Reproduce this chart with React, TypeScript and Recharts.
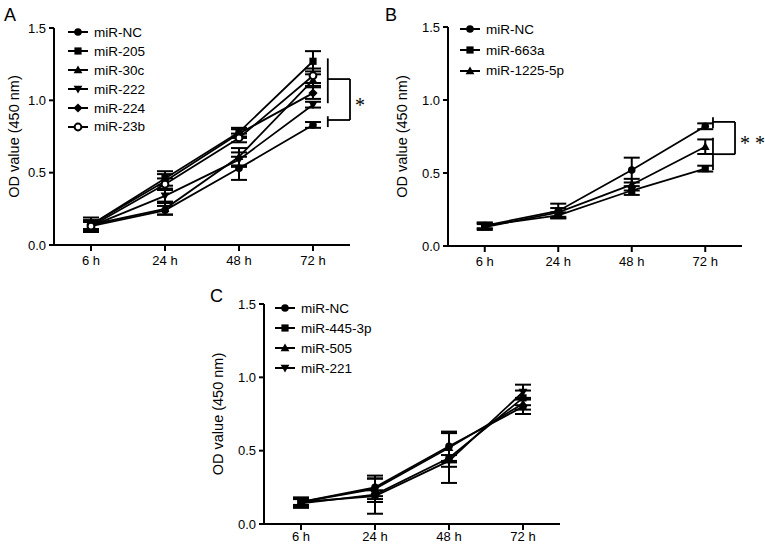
import React from "react";
import {
  LineChart,
  Line,
  XAxis,
  YAxis,
  ErrorBar,
  ReferenceLine,
} from "recharts";

const TIMES = ["6 h", "24 h", "48 h", "72 h"];
const Y_TICKS = [0, 0.5, 1, 1.5];

// panel A
const A_NAMES = ["miR-NC", "miR-205", "miR-30c", "miR-222", "miR-224", "miR-23b"];
const A_SHAPES = ["circle", "square", "triangle", "triangleDown", "diamond", "ring"];
const A_NC = [0.13, 0.24, 0.53, 0.83];
const A_NC_SD = [0.03, 0.03, 0.08, 0.02];
const A_205 = [0.14, 0.46, 0.78, 1.27];
const A_205_SD = [0.05, 0.05, 0.03, 0.07];
const A_30C = [0.14, 0.25, 0.61, 1.14];
const A_30C_SD = [0.03, 0.04, 0.06, 0.04];
const A_222 = [0.13, 0.34, 0.59, 0.97];
const A_222_SD = [0.03, 0.04, 0.05, 0.02];
const A_224 = [0.14, 0.44, 0.77, 1.05];
const A_224_SD = [0.03, 0.05, 0.03, 0.04];
const A_23B = [0.13, 0.42, 0.74, 1.17];
const A_23B_SD = [0.04, 0.04, 0.03, 0.05];

// panel B
const B_NAMES = ["miR-NC", "miR-663a", "miR-1225-5p"];
const B_SHAPES = ["circle", "square", "triangle"];
const B_NC = [0.14, 0.24, 0.52, 0.82];
const B_NC_SD = [0.02, 0.05, 0.085, 0.02];
const B_663A = [0.14, 0.21, 0.38, 0.53];
const B_663A_SD = [0.02, 0.02, 0.03, 0.02];
const B_1225 = [0.13, 0.23, 0.42, 0.68];
const B_1225_SD = [0.02, 0.03, 0.04, 0.05];

// panel C
const C_NAMES = ["miR-NC", "miR-445-3p", "miR-505", "miR-221"];
const C_SHAPES = ["circle", "square", "triangle", "triangleDown"];
const C_NC = [0.15, 0.25, 0.53, 0.8];
const C_NC_SD = [0.03, 0.06, 0.1, 0.05];
const C_445 = [0.14, 0.2, 0.45, 0.86];
const C_445_SD = [0.03, 0.13, 0.17, 0.05];
const C_505 = [0.15, 0.24, 0.52, 0.82];
const C_505_SD = [0.02, 0.07, 0.1, 0.04];
const C_221 = [0.15, 0.19, 0.43, 0.9];
const C_221_SD = [0.03, 0.04, 0.04, 0.05];

const FONT = "'Liberation Sans', Arial, Helvetica, sans-serif";

function buildRows(means: number[][], sds: number[][]) {
  return TIMES.map((_, i) => {
    const row: Record<string, number> = { x: i };
    means.forEach((m, s) => {
      row[`s${s}`] = m[i];
      row[`e${s}`] = sds[s][i];
    });
    return row;
  });
}

function Marker({ shape, cx, cy }: { shape: string; cx: number; cy: number }) {
  switch (shape) {
    case "square":
      return <rect x={cx - 3.6} y={cy - 3.6} width={7.2} height={7.2} fill="#000" />;
    case "triangle":
      return <polygon points={`${cx},${cy - 4.6} ${cx + 4.4},${cy + 3.2} ${cx - 4.4},${cy + 3.2}`} fill="#000" />;
    case "triangleDown":
      return <polygon points={`${cx - 4.4},${cy - 3.2} ${cx + 4.4},${cy - 3.2} ${cx},${cy + 4.6}`} fill="#000" />;
    case "diamond":
      return <polygon points={`${cx},${cy - 4.6} ${cx + 4.6},${cy} ${cx},${cy + 4.6} ${cx - 4.6},${cy}`} fill="#000" />;
    case "ring":
      return <circle cx={cx} cy={cy} r={3.4} fill="#fff" stroke="#000" strokeWidth={2} />;
    default:
      return <circle cx={cx} cy={cy} r={3.8} fill="#000" />;
  }
}

type Bracket = { x1: number; y1: number; x2: number; y2: number; star?: string };

interface PanelProps {
  left: number;
  top: number;
  width: number;
  height: number;
  axisW: number;
  right: number;
  mTop: number;
  xAxisH: number;
  xTickMargin: number;
  labelOffset: number;
  letter: string;
  letterX: number;
  letterY: number;
  names: string[];
  shapes: string[];
  means: number[][];
  sds: number[][];
  legendX: number;
  legendY: number;
  legendRow: number;
  brackets: Bracket[];
}

function Panel(p: PanelProps) {
  const rows = buildRows(p.means, p.sds);
  return (
    <div style={{ position: "absolute", left: p.left, top: p.top, width: p.width, height: p.height }}>
      <div
        style={{
          position: "absolute",
          left: p.letterX,
          top: p.letterY,
          fontFamily: FONT,
          fontSize: 18,
          lineHeight: "18px",
          color: "#000",
        }}
      >
        {p.letter}
      </div>
      <LineChart
        width={p.width}
        height={p.height}
        data={rows}
        margin={{ top: p.mTop, right: p.right, left: 0, bottom: 0 }}
      >
        <XAxis
          dataKey="x"
          type="number"
          domain={[-0.5, 3.5]}
          ticks={[0, 1, 2, 3]}
          tickFormatter={(v: number) => TIMES[v]}
          height={p.xAxisH}
          tick={{ fontSize: 13, fill: "#000", fontFamily: FONT }}
          tickSize={6}
          tickMargin={p.xTickMargin}
          axisLine={{ stroke: "#000", strokeWidth: 2 }}
          tickLine={{ stroke: "#000", strokeWidth: 2 }}
          allowDataOverflow
        />
        <YAxis
          domain={[0, 1.5]}
          ticks={Y_TICKS}
          width={p.axisW}
          tickFormatter={(v: number) => v.toFixed(1)}
          tick={{ fontSize: 13, fill: "#000", fontFamily: FONT }}
          tickSize={5}
          tickMargin={3}
          axisLine={{ stroke: "#000", strokeWidth: 2 }}
          tickLine={{ stroke: "#000", strokeWidth: 2 }}
          allowDataOverflow
          label={{
            value: "OD value (450 nm)",
            angle: -90,
            position: "insideLeft",
            offset: p.labelOffset,
            style: { textAnchor: "middle", fontSize: 14.5, fill: "#000", fontFamily: FONT },
          }}
        />
        {p.brackets.map((b, i) => (
          <ReferenceLine
            key={`br${i}`}
            segment={[
              { x: b.x1, y: b.y1 },
              { x: b.x2, y: b.y2 },
            ]}
            stroke="#000"
            strokeWidth={1.8}
            ifOverflow="visible"
            label={
              b.star
                ? {
                    value: b.star,
                    position: "right",
                    offset: 5,
                    dy: 5,
                    style: { fontSize: 20, fill: "#000", fontFamily: "'Liberation Serif', 'Times New Roman', serif" },
                  }
                : undefined
            }
          />
        ))}
        {p.names.map((n, s) => (
          <Line
            key={n}
            dataKey={`s${s}`}
            name={n}
            stroke="#000"
            strokeWidth={1.8}
            isAnimationActive={false}
            dot={(d: any) => (
              <g key={`d${s}-${d.index}`}>
                <Marker shape={p.shapes[s]} cx={d.cx} cy={d.cy} />
              </g>
            )}
          >
            <ErrorBar dataKey={`e${s}`} direction="y" width={8} stroke="#000" strokeWidth={2} />
          </Line>
        ))}
      </LineChart>
      <div style={{ position: "absolute", left: p.legendX, top: p.legendY, fontFamily: FONT, fontSize: 13.5, color: "#000" }}>
        {p.names.map((n, s) => (
          <div key={n} style={{ display: "flex", alignItems: "center", height: p.legendRow }}>
            <svg width={20} height={12} style={{ marginRight: 6 }}>
              <line x1={0} y1={6} x2={20} y2={6} stroke="#000" strokeWidth={2} />
              <Marker shape={p.shapes[s]} cx={10} cy={6} />
            </svg>
            <span>{n}</span>
          </div>
        ))}
      </div>
    </div>
  );
}

export default function App() {
  return (
    <div style={{ position: "absolute", left: 0, top: 0, width: 765, height: 548, background: "#fff", overflow: "hidden" }}>
      <Panel
        left={0}
        top={0}
        width={380}
        height={280}
        axisW={54}
        right={30}
        mTop={28}
        xAxisH={35}
        xTickMargin={5}
        labelOffset={14}
        letter="A"
        letterX={4}
        letterY={6}
        names={A_NAMES}
        shapes={A_SHAPES}
        means={[A_NC, A_205, A_30C, A_222, A_224, A_23B]}
        sds={[A_NC_SD, A_205_SD, A_30C_SD, A_222_SD, A_224_SD, A_23B_SD]}
        legendX={68}
        legendY={23}
        legendRow={18.9}
        brackets={[
          { x1: 3.2, y1: 1.29, x2: 3.2, y2: 0.98 },
          { x1: 3.2, y1: 0.89, x2: 3.2, y2: 0.815 },
          { x1: 3.2, y1: 1.147, x2: 3.5, y2: 1.147 },
          { x1: 3.2, y1: 0.864, x2: 3.5, y2: 0.864 },
          { x1: 3.5, y1: 1.147, x2: 3.5, y2: 0.864, star: "*" },
        ]}
      />
      <Panel
        left={380}
        top={0}
        width={385}
        height={281}
        axisW={68}
        right={23}
        mTop={27}
        xAxisH={35}
        xTickMargin={5}
        labelOffset={22}
        letter="B"
        letterX={5}
        letterY={6}
        names={B_NAMES}
        shapes={B_SHAPES}
        means={[B_NC, B_663A, B_1225]}
        sds={[B_NC_SD, B_663A_SD, B_1225_SD]}
        legendX={80}
        legendY={19}
        legendRow={20.7}
        brackets={[
          { x1: 3.105, y1: 0.882, x2: 3.105, y2: 0.807 },
          { x1: 3.105, y1: 0.741, x2: 3.105, y2: 0.52 },
          { x1: 3.105, y1: 0.85, x2: 3.405, y2: 0.85 },
          { x1: 3.105, y1: 0.629, x2: 3.405, y2: 0.629 },
          { x1: 3.405, y1: 0.85, x2: 3.405, y2: 0.629, star: "* *" },
        ]}
      />
      <Panel
        left={190}
        top={275}
        width={380}
        height={273}
        axisW={74}
        right={10}
        mTop={29}
        xAxisH={24}
        xTickMargin={2}
        labelOffset={28}
        letter="C"
        letterX={20}
        letterY={12}
        names={C_NAMES}
        shapes={C_SHAPES}
        means={[C_NC, C_445, C_505, C_221]}
        sds={[C_NC_SD, C_445_SD, C_505_SD, C_221_SD]}
        legendX={85}
        legendY={23}
        legendRow={20}
        brackets={[]}
      />
    </div>
  );
}
